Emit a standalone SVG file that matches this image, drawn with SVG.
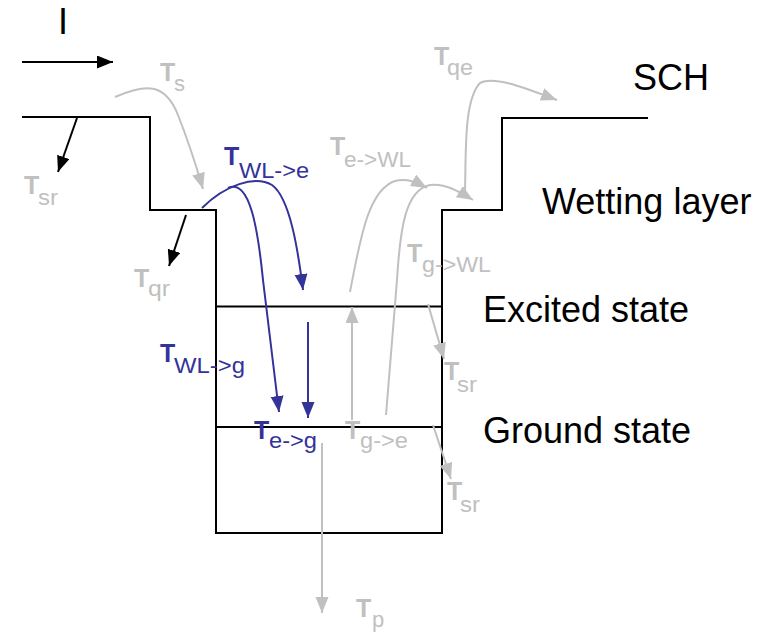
<svg xmlns="http://www.w3.org/2000/svg" width="769" height="632" viewBox="0 0 769 632">
<style>
text{font-family:"Liberation Sans",Arial,sans-serif}
.big{font-size:36px;fill:#000}
.T{font-size:25px;font-weight:bold}
.s{font-size:22px}
.gray{fill:#c0c0c0}
.blue{fill:#333399}
.lk{fill:none;stroke:#000;stroke-width:2}
.lg{fill:none;stroke:#c0c0c0;stroke-width:2}
.lb{fill:none;stroke:#333399;stroke-width:2}
</style>
<defs>
<marker id="ak" markerUnits="userSpaceOnUse" markerWidth="18" markerHeight="14" refX="16" refY="6.5" orient="auto"><path d="M0,0 L16,6.5 L0,13 z" fill="#000"/></marker>
<marker id="ag" markerUnits="userSpaceOnUse" markerWidth="18" markerHeight="14" refX="16" refY="6.5" orient="auto"><path d="M0,0 L16,6.5 L0,13 z" fill="#c0c0c0"/></marker>
<marker id="ab" markerUnits="userSpaceOnUse" markerWidth="18" markerHeight="14" refX="16" refY="6.5" orient="auto"><path d="M0,0 L16,6.5 L0,13 z" fill="#333399"/></marker>
</defs>
<g id="structure">
<path class="lk" d="M22,117 H150 V210 H216 V533 H442 V210 H502 V118 H648"/>
<path class="lk" d="M216,306.5 H442"/>
<path class="lk" d="M216,427 H442"/>
</g>
<g id="connectors">
<path class="lk" d="M22,62 L113,62" marker-end="url(#ak)"/>
<path class="lk" d="M77,118 L58,172" marker-end="url(#ak)"/>
<path class="lk" d="M186,215 L169,266" marker-end="url(#ak)"/>
<path class="lg" d="M115,97 C145,84 165,82 178,115 S198,172 203,189" marker-end="url(#ag)"/>
<path class="lb" d="M202,208 C225,185 255,175 272,185 C290,198 298,250 303,290" marker-end="url(#ab)"/>
<path class="lb" d="M228,188 C250,178 258,230 263,280 L279,412" marker-end="url(#ab)"/>
<path class="lb" d="M308,322 L308,418" marker-end="url(#ab)"/>
<path class="lg" d="M352,420 L352,307" marker-end="url(#ag)"/>
<path class="lg" d="M322,443 L322,613" marker-end="url(#ag)"/>
<path class="lg" d="M428,304 L444,359" marker-end="url(#ag)"/>
<path class="lg" d="M433,425 L451,479" marker-end="url(#ag)"/>
<path class="lg" d="M350,292 C360,240 368,190 395,181 C408,178 418,183 427,188" marker-end="url(#ag)"/>
<path class="lg" d="M386,415 L397,280 C400,230 405,190 430,185 C445,183 460,192 473,200" marker-end="url(#ag)"/>
<path class="lg" d="M465,193 C466,150 464,100 480,83 C495,75 530,90 557,100" marker-end="url(#ag)"/>
</g>
<g id="labels">
<text class="big" x="58" y="34">I</text>
<text class="big" x="633" y="90">SCH</text>
<text class="big" x="542" y="214">Wetting layer</text>
<text class="big" x="483" y="322">Excited state</text>
<text class="big" x="483" y="443">Ground state</text>
</g>
<g id="rates">
<text class="gray"><tspan class="T" x="160" y="81">T</tspan><tspan class="s" x="174" y="91">s</tspan></text>
<text class="gray"><tspan class="T" x="24" y="194">T</tspan><tspan class="s" x="38" y="205" textLength="20" lengthAdjust="spacingAndGlyphs">sr</tspan></text>
<text class="gray"><tspan class="T" x="134" y="287">T</tspan><tspan class="s" x="148" y="296" textLength="22" lengthAdjust="spacingAndGlyphs">qr</tspan></text>
<text class="blue"><tspan class="T" x="224" y="165">T</tspan><tspan class="s" x="239" y="178" textLength="70" lengthAdjust="spacingAndGlyphs">WL-&gt;e</tspan></text>
<text class="blue"><tspan class="T" x="160" y="362">T</tspan><tspan class="s" x="174" y="373" textLength="71" lengthAdjust="spacingAndGlyphs">WL-&gt;g</tspan></text>
<text class="blue"><tspan class="T" x="254" y="439">T</tspan><tspan class="s" x="269" y="448" textLength="48" lengthAdjust="spacingAndGlyphs">e-&gt;g</tspan></text>
<text class="gray"><tspan class="T" x="345" y="439">T</tspan><tspan class="s" x="360" y="448" textLength="48" lengthAdjust="spacingAndGlyphs">g-&gt;e</tspan></text>
<text class="gray"><tspan class="T" x="356" y="617">T</tspan><tspan class="s" x="372" y="627">p</tspan></text>
<text class="gray"><tspan class="T" x="444" y="380">T</tspan><tspan class="s" x="457" y="392" textLength="20" lengthAdjust="spacingAndGlyphs">sr</tspan></text>
<text class="gray"><tspan class="T" x="447" y="500">T</tspan><tspan class="s" x="460" y="512" textLength="20" lengthAdjust="spacingAndGlyphs">sr</tspan></text>
<text class="gray"><tspan class="T" x="330" y="155">T</tspan><tspan class="s" x="344" y="167" textLength="67" lengthAdjust="spacingAndGlyphs">e-&gt;WL</tspan></text>
<text class="gray"><tspan class="T" x="407" y="262">T</tspan><tspan class="s" x="422" y="272" textLength="69" lengthAdjust="spacingAndGlyphs">g-&gt;WL</tspan></text>
<text class="gray"><tspan class="T" x="434" y="65">T</tspan><tspan class="s" x="447" y="75" textLength="26" lengthAdjust="spacingAndGlyphs">qe</tspan></text>
</g>
</svg>
